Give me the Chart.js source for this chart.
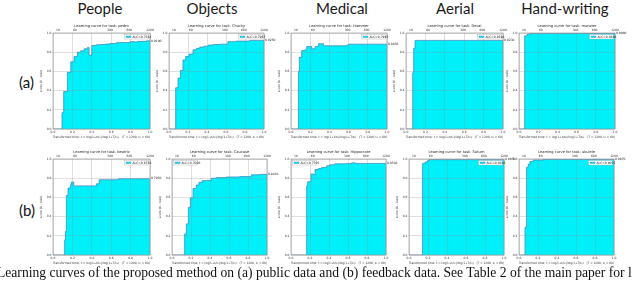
<!DOCTYPE html>
<html>
<head>
<meta charset="utf-8">
<script src="https://cdn.jsdelivr.net/npm/chart.js@4.4.1/dist/chart.umd.min.js"></script>
<style>
  body { margin: 0; width: 640px; height: 283px; overflow: hidden; background: #fff; position: relative; font-family: Lato, sans-serif; color: #111; }
  .head { position: absolute; top: -1px; font-size: 15px; transform: translateX(-50%); white-space: nowrap; color: #1a1a1a; }
  .row { position: absolute; left: 19px; font-size: 15px; }
  .panel { position: absolute; }
  .caption { position: absolute; left: -3px; top: 265px; font-family: 'Liberation Serif', serif; font-size: 13.6px; white-space: nowrap; }
</style>
</head>
<body>
<div id="page"></div>
<div class="caption">Learning curves of the proposed method on (a) public data and (b) feedback data. See Table 2 of the main paper for l</div>
<script>
// Data
const headers = ['People', 'Objects', 'Medical', 'Aerial', 'Hand-writing'];
const rowLabels = ['(a)', '(b)'];
const taskNames = ['pedro', 'Chucky', 'Hammer', 'Decal', 'munster', 'beatriz', 'Caucase', 'Hippocrate', 'Saturn', 'ukulele'];
const alcValues = [0.7584, 0.7967, 0.7993, 0.8598, 0.9386, 0.6758, 0.7006, 0.7705, 0.8308, 0.9055];
const timeTicks = [10, 60, 300, 600, 1200];
const scoreTicks = [0, 0.2, 0.4, 0.6, 0.8, 1.0];
const T_MAX = 1200, T0 = 60;

// transformed time / score pairs for each task
const pedroTime  = [0, 0.093, 0.11, 0.148, 0.183, 0.217, 0.252, 0.286, 0.321, 0.355, 0.372, 0.40, 0.448, 0.483, 0.545, 0.586, 0.655, 0.793, 0.845, 0.87, 0.897, 0.966, 1.0];
const pedroScore = [0, 0.17, 0.39, 0.59, 0.70, 0.756, 0.80, 0.815, 0.836, 0.85, 0.77, 0.87, 0.878, 0.88, 0.885, 0.89, 0.90, 0.91, 0.905, 0.912, 0.913, 0.919, 0.919];
const chuckyTime  = [0, 0.07, 0.095, 0.12, 0.147, 0.175, 0.21, 0.253, 0.288, 0.323, 0.368, 0.41, 0.463, 0.533, 0.62, 0.709, 0.849, 1.0];
const chuckyScore = [0, 0.43, 0.53, 0.61, 0.72, 0.755, 0.78, 0.825, 0.84, 0.853, 0.863, 0.874, 0.88, 0.884, 0.91, 0.916, 0.923, 0.925];
const hammerTime  = [0, 0.077, 0.087, 0.111, 0.146, 0.164, 0.216, 0.251, 0.286, 0.338, 0.582, 0.60, 1.0];
const hammerScore = [0, 0.60, 0.747, 0.818, 0.825, 0.86, 0.835, 0.86, 0.888, 0.867, 0.874, 0.884, 0.885];
const decalTime  = [0, 0.069, 0.079, 0.093, 1.0];
const decalScore = [0, 0.586, 0.84, 0.923, 0.923];
const munsterTime  = [0, 0.059, 0.084, 0.111, 1.0];
const munsterScore = [0, 0.97, 0.986, 0.996, 0.998];
const beatrizTime  = [0, 0.12, 0.128, 0.138, 0.155, 0.179, 0.19, 0.214, 0.448, 0.476, 0.672, 1.0];
const beatrizScore = [0, 0.157, 0.244, 0.62, 0.697, 0.732, 0.76, 0.72, 0.742, 0.784, 0.794, 0.795];
const caucaseTime  = [0, 0.133, 0.151, 0.172, 0.193, 0.221, 0.256, 0.284, 0.319, 0.372, 0.414, 0.467, 0.572, 0.712, 0.835, 0.923, 1.0];
const caucaseScore = [0, 0.218, 0.324, 0.496, 0.595, 0.694, 0.729, 0.757, 0.775, 0.778, 0.80, 0.806, 0.813, 0.817, 0.835, 0.84, 0.841];
const hippoTime  = [0, 0.165, 0.175, 0.21, 0.235, 0.253, 0.288, 0.323, 0.375, 0.41, 0.463, 0.586, 0.639, 0.674, 1.0];
const hippoScore = [0, 0.722, 0.764, 0.845, 0.835, 0.89, 0.90, 0.912, 0.93, 0.94, 0.95, 0.954, 0.96, 0.954, 0.954];
const saturnTime  = [0, 0.143, 0.168, 0.192, 0.213, 1.0];
const saturnScore = [0, 0.954, 0.968, 0.982, 0.993, 0.995];
const ukuleleTime  = [0, 0.063, 0.08, 0.098, 0.115, 0.15, 0.255, 1.0];
const ukuleleScore = [0, 0.289, 0.915, 0.947, 0.975, 0.989, 0.996, 0.997];

const series = [
    [pedroTime, pedroScore], [chuckyTime, chuckyScore], [hammerTime, hammerScore], [decalTime, decalScore], [munsterTime, munsterScore],
    [beatrizTime, beatrizScore], [caucaseTime, caucaseScore], [hippoTime, hippoScore], [saturnTime, saturnScore], [ukuleleTime, ukuleleScore]
];

// Layout (page pixels of each plot box)
const headerX = [100, 212, 342, 455, 565];
const rowLabelY = [73, 201];
const rowTop = [33, 159];
const plotLeft = [[53, 169, 291, 406, 519], [53, 172, 291, 409, 519]];
const plotWidth = [[97, 95, 96, 97, 96], [97, 95, 95, 95, 95]];
const plotHeight = 96;
const legendOnLeft = [false, false, false, false, false, false, true, true, false, false];

const page = document.getElementById('page');
headers.forEach((h, i) => {
    const d = document.createElement('div');
    d.className = 'head';
    d.style.left = headerX[i] + 'px';
    d.textContent = h;
    page.appendChild(d);
});
rowLabels.forEach((r, i) => {
    const d = document.createElement('div');
    d.className = 'row';
    d.style.top = rowLabelY[i] + 'px';
    d.textContent = r;
    page.appendChild(d);
});

const tinyFont = { family: 'DejaVu Sans', size: 3 };

// frame, title, legend and final value of each panel
const panelDecor = {
    id: 'panelDecor',
    afterDraw(chart, args, opts) {
        const { ctx, chartArea: a } = chart;
        ctx.save();
        ctx.strokeStyle = '#8a8a8a';
        ctx.lineWidth = 0.6;
        ctx.strokeRect(a.left, a.top, a.right - a.left, a.bottom - a.top);

        ctx.fillStyle = '#222';
        ctx.font = '3.6px "DejaVu Sans"';
        ctx.textAlign = 'center';
        ctx.textBaseline = 'middle';
        ctx.fillText('Learning curve for task: ' + opts.task, (a.left + a.right) / 2, 5);

        const pts = chart.data.datasets[0].data;
        const last = pts[pts.length - 1].y;
        ctx.font = '3px "DejaVu Sans"';
        ctx.textAlign = 'left';
        ctx.fillText(last.toFixed(4), a.right + 1, chart.scales.y.getPixelForValue(last));

        // legend box
        const w = 24, h = 4.5;
        const lx = opts.left ? a.left + 1.5 : a.right - w - 1.5;
        const ly = a.top + 1.5;
        ctx.fillStyle = '#fff';
        ctx.fillRect(lx, ly, w, h);
        ctx.strokeStyle = '#aaa';
        ctx.lineWidth = 0.4;
        ctx.strokeRect(lx, ly, w, h);
        ctx.fillStyle = 'rgb(0,240,250)';
        ctx.fillRect(lx + 1.5, ly + 1.5, 5, 1.5);
        ctx.strokeStyle = '#3b7fb8';
        ctx.strokeRect(lx + 1.5, ly + 1.5, 5, 1.5);
        ctx.fillStyle = '#222';
        ctx.fillText('ALC=' + opts.alc.toFixed(4), lx + 8, ly + h / 2);
        ctx.restore();
    }
};

function transformTime(t) {
    return Math.log(1 + t / T0) / Math.log(1 + T_MAX / T0);
}

function drawPanel(k) {
    const row = Math.floor(k / 5), col = k % 5;
    const pw = plotWidth[row][col];
    const canvas = document.createElement('canvas');
    canvas.className = 'panel';
    canvas.width = pw + 30;
    canvas.height = plotHeight + 24;
    canvas.style.left = (plotLeft[row][col] - 14) + 'px';
    canvas.style.top = (rowTop[row] - 12) + 'px';
    page.appendChild(canvas);

    const [times, scores] = series[k];
    const gridStyle = { color: 'rgba(140,140,140,0.55)', lineWidth: 0.5, z: 1, drawTicks: false };

    new Chart(canvas.getContext('2d'), {
        type: 'line',
        data: {
            datasets: [{
                data: times.map((t, i) => ({ x: t, y: scores[i] })),
                stepped: true,
                fill: 'origin',
                backgroundColor: 'rgb(0,240,250)',
                borderColor: '#3b7fb8',
                borderWidth: 0.7,
                pointRadius: 0
            }]
        },
        options: {
            responsive: false,
            animation: false,
            layout: { padding: { top: 7, right: 16, left: 0, bottom: 2 } },
            plugins: {
                legend: { display: false },
                tooltip: { enabled: false },
                panelDecor: { task: taskNames[k], alc: alcValues[k], left: legendOnLeft[k] }
            },
            scales: {
                x: {
                    type: 'linear', position: 'bottom', min: 0, max: 1,
                    grid: gridStyle, border: { display: false },
                    ticks: { stepSize: 0.2, padding: 1.5, font: tinyFont, color: '#333', maxRotation: 0, callback: v => v.toFixed(1) },
                    title: { display: true, text: 'Transformed time: t\u0303 = log(1+t/t\u2080)/log(1+T/t\u2080)   (T = 1200, t\u2080 = 60)', font: tinyFont, color: '#333', padding: 0 },
                    afterFit: s => { s.height = 10; }
                },
                x2: {
                    type: 'linear', position: 'top', min: 0, max: 1,
                    grid: { display: false, drawTicks: false }, border: { display: false },
                    afterBuildTicks: s => { s.ticks = timeTicks.map(t => ({ value: transformTime(t) })); },
                    ticks: { padding: 1, font: tinyFont, color: '#333', maxRotation: 0, autoSkip: false, callback: (v, i) => timeTicks[i] },
                    afterFit: s => { s.height = 5; }
                },
                y: {
                    min: 0, max: 1,
                    grid: gridStyle, border: { display: false },
                    afterBuildTicks: s => { s.ticks = scoreTicks.map(v => ({ value: v })); },
                    ticks: { padding: 1.5, font: tinyFont, color: '#333', callback: v => v.toFixed(1) },
                    title: { display: true, text: 'score (1 - task)', font: tinyFont, color: '#333', padding: 0 },
                    afterFit: s => { s.width = 14; }
                }
            }
        },
        plugins: [panelDecor]
    });
}

for (let k = 0; k < series.length; k++) drawPanel(k);
</script>
</body>
</html>
